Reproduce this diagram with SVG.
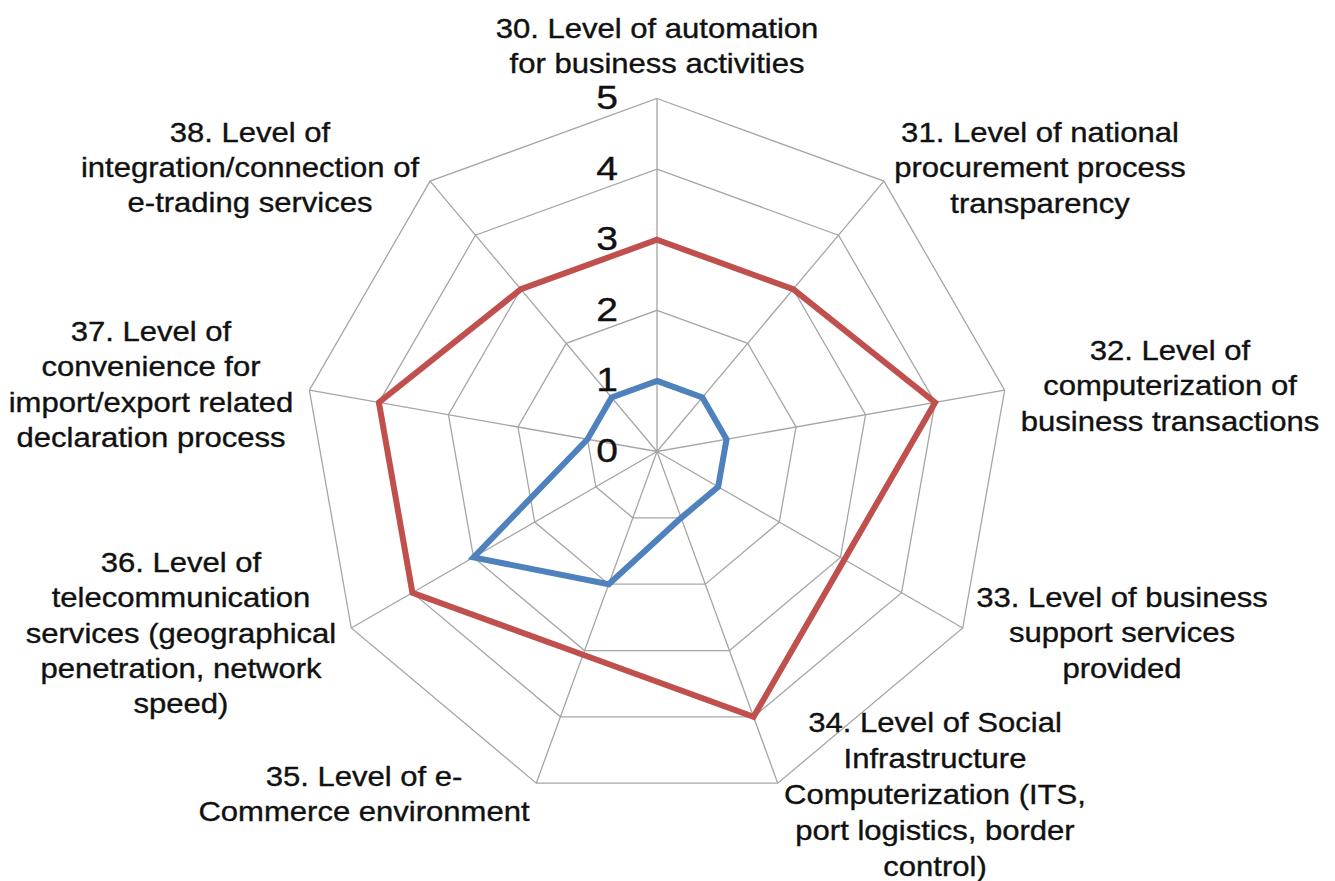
<svg xmlns="http://www.w3.org/2000/svg" width="1335" height="881" viewBox="0 0 1335 881">
<style>
.grid{fill:none;stroke:#a6a6a6;stroke-width:1.3}
.lab{font-family:"Liberation Sans",Arial,sans-serif;font-size:27px;fill:#111;stroke:#111;stroke-width:0.35;text-anchor:middle}
.num{font-family:"Liberation Sans",Arial,sans-serif;font-size:34px;fill:#111;stroke:#111;stroke-width:0.35;text-anchor:end}
.ser{fill:none;stroke-width:6;stroke-linejoin:miter;stroke-miterlimit:10}
</style>
<rect width="1335" height="881" fill="#fff"/>
<g id="grid">
<polygon class="grid" points="657,380.9 702.38,397.42 726.53,439.24 718.14,486.8 681.15,517.84 632.85,517.84 595.86,486.8 587.47,439.24 611.62,397.42"/>
<polygon class="grid" points="657,310.3 747.76,343.34 796.06,426.98 779.28,522.1 705.29,584.18 608.71,584.18 534.72,522.1 517.94,426.98 566.24,343.34"/>
<polygon class="grid" points="657,239.7 793.14,289.25 865.58,414.72 840.43,557.4 729.44,650.53 584.56,650.53 473.57,557.4 448.42,414.72 520.86,289.25"/>
<polygon class="grid" points="657,169.1 838.52,235.17 935.11,402.46 901.57,592.7 753.59,716.87 560.41,716.87 412.43,592.7 378.89,402.46 475.48,235.17"/>
<polygon class="grid" points="657,98.5 883.9,181.09 1004.64,390.2 962.71,628 777.73,783.21 536.27,783.21 351.29,628 309.36,390.2 430.1,181.09"/>
<path class="grid" d="M657,451.5L657,98.5M657,451.5L883.9,181.09M657,451.5L1004.64,390.2M657,451.5L962.71,628M657,451.5L777.73,783.21M657,451.5L536.27,783.21M657,451.5L351.29,628M657,451.5L309.36,390.2M657,451.5L430.1,181.09"/>
</g>
<g id="axis-values">
<g transform="translate(618,109) scale(1.15,1)"><text class="num" x="0" y="0">5</text></g>
<g transform="translate(618,179.6) scale(1.15,1)"><text class="num" x="0" y="0">4</text></g>
<g transform="translate(618,250.2) scale(1.15,1)"><text class="num" x="0" y="0">3</text></g>
<g transform="translate(618,320.8) scale(1.15,1)"><text class="num" x="0" y="0">2</text></g>
<g transform="translate(618,391.4) scale(1.15,1)"><text class="num" x="0" y="0">1</text></g>
<g transform="translate(618,462) scale(1.15,1)"><text class="num" x="0" y="0">0</text></g>
</g>
<g id="connectors">
<polygon id="series-red" class="ser" stroke="#c0504d" points="657,239.7 793.14,289.25 935.11,402.46 844.3,559.7 753.59,716.87 583,654.8 412.43,592.7 378.89,402.46 520.86,289.25"/>
<polygon id="series-blue" class="ser" stroke="#4f81bd" points="657,380.9 702.38,397.42 726.53,439.24 718.14,486.8 681.15,517.84 608.71,584.18 473.57,557.4 587.47,439.24 611.62,397.42"/>
</g>
<g id="label-30" transform="translate(657,37.5) scale(1.15,1)"><text class="lab" x="0" y="0"><tspan x="0">30. Level of automation</tspan><tspan x="0" dy="35.5">for business activities</tspan></text></g>
<g id="label-31" transform="translate(1040,142) scale(1.15,1)"><text class="lab" x="0" y="0"><tspan x="0">31. Level of national</tspan><tspan x="0" dy="35.5">procurement process</tspan><tspan x="0" dy="35.5">transparency</tspan></text></g>
<g id="label-32" transform="translate(1170,360) scale(1.15,1)"><text class="lab" x="0" y="0"><tspan x="0">32. Level of</tspan><tspan x="0" dy="35.5">computerization of</tspan><tspan x="0" dy="35.5">business transactions</tspan></text></g>
<g id="label-33" transform="translate(1122,607) scale(1.15,1)"><text class="lab" x="0" y="0"><tspan x="0">33. Level of business</tspan><tspan x="0" dy="35.5">support services</tspan><tspan x="0" dy="35.5">provided</tspan></text></g>
<g id="label-34" transform="translate(935,732) scale(1.15,1)"><text class="lab" x="0" y="0"><tspan x="0">34. Level of Social</tspan><tspan x="0" dy="36">Infrastructure</tspan><tspan x="0" dy="36">Computerization (ITS,</tspan><tspan x="0" dy="36">port logistics, border</tspan><tspan x="0" dy="36">control)</tspan></text></g>
<g id="label-35" transform="translate(364,786) scale(1.15,1)"><text class="lab" x="0" y="0"><tspan x="0">35. Level of e-</tspan><tspan x="0" dy="35.5">Commerce environment</tspan></text></g>
<g id="label-36" transform="translate(181,572) scale(1.15,1)"><text class="lab" x="0" y="0"><tspan x="0">36. Level of</tspan><tspan x="0" dy="35.3">telecommunication</tspan><tspan x="0" dy="35.3">services (geographical</tspan><tspan x="0" dy="35.3">penetration, network</tspan><tspan x="0" dy="35.3">speed)</tspan></text></g>
<g id="label-37" transform="translate(151,341) scale(1.15,1)"><text class="lab" x="0" y="0"><tspan x="0">37. Level of</tspan><tspan x="0" dy="35.5">convenience for</tspan><tspan x="0" dy="35.5">import/export related</tspan><tspan x="0" dy="35.5">declaration process</tspan></text></g>
<g id="label-38" transform="translate(250,142) scale(1.15,1)"><text class="lab" x="0" y="0"><tspan x="0">38. Level of</tspan><tspan x="0" dy="35">integration/connection of</tspan><tspan x="0" dy="35">e-trading services</tspan></text></g>
</svg>
